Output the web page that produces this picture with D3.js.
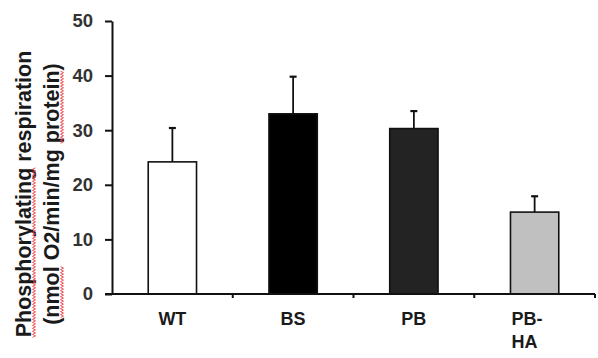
<!DOCTYPE html>
<html>
<head>
<meta charset="utf-8">
<script src="https://cdn.jsdelivr.net/npm/d3@7"></script>
<style>
  body { margin: 0; background: #fff; }
  svg text { font-family: "Liberation Sans", Arial, sans-serif; }
</style>
</head>
<body>
<div id="chart"></div>
<script>
// bar chart: phosphorylating respiration per strain

const categories = ['WT', 'BS', 'PB', 'PB-HA'];
const means = [24.2, 33.0, 30.3, 15.0];
const errors = [6.2, 6.8, 3.2, 2.9];
const fills = ['#ffffff', '#000000', '#232323', '#c0c0c0'];
const yTicks = [0, 10, 20, 30, 40, 50];

const width = 598, height = 358;
const margin = { left: 112, right: 3, top: 21, bottom: 64 };

const svg = d3.select('#chart')
  .append('svg')
  .attr('width', width)
  .attr('height', height);

const x = d3.scaleBand()
  .domain(categories)
  .range([margin.left, width - margin.right])
  .paddingInner(0.6)
  .paddingOuter(0.3);

const y = d3.scaleLinear()
  .domain([0, 50])
  .range([height - margin.bottom, margin.top]);

const bands = d3.scaleBand().domain(categories).range([margin.left, width - margin.right]);

// bars
svg.selectAll('rect.bar')
  .data(categories)
  .enter().append('rect')
  .attr('class', 'bar')
  .attr('x', d => x(d))
  .attr('y', (d, i) => y(means[i]))
  .attr('width', x.bandwidth())
  .attr('height', (d, i) => y(0) - y(means[i]))
  .attr('fill', (d, i) => fills[i])
  .attr('stroke', '#111')
  .attr('stroke-width', 1.6);

// error bars (upper only)
const err = svg.selectAll('g.err')
  .data(categories)
  .enter().append('g');
err.append('line')
  .attr('x1', d => x(d) + x.bandwidth() / 2)
  .attr('x2', d => x(d) + x.bandwidth() / 2)
  .attr('y1', (d, i) => y(means[i]))
  .attr('y2', (d, i) => y(means[i] + errors[i]))
  .attr('stroke', '#111').attr('stroke-width', 1.8);
err.append('line')
  .attr('x1', d => x(d) + x.bandwidth() / 2 - 3.5)
  .attr('x2', d => x(d) + x.bandwidth() / 2 + 3.5)
  .attr('y1', (d, i) => y(means[i] + errors[i]))
  .attr('y2', (d, i) => y(means[i] + errors[i]))
  .attr('stroke', '#111').attr('stroke-width', 2.2);

// y axis
const yAxis = svg.append('g')
  .attr('transform', `translate(${margin.left},0)`)
  .call(d3.axisLeft(y).tickValues(yTicks).tickSize(7).tickPadding(12).tickSizeOuter(0));
yAxis.select('.domain').attr('stroke', '#111').attr('stroke-width', 2);
yAxis.selectAll('.tick line').attr('stroke', '#111').attr('stroke-width', 2);
yAxis.selectAll('.tick text')
  .attr('fill', '#333')
  .attr('font-size', 18.5)
  .attr('font-weight', 'bold');

// x axis: ticks between categories
const xAxisY = y(0);
svg.append('line')
  .attr('x1', margin.left - 7).attr('x2', width - margin.right)
  .attr('y1', xAxisY).attr('y2', xAxisY)
  .attr('stroke', '#111').attr('stroke-width', 2);
svg.selectAll('line.xt')
  .data(categories)
  .enter().append('line')
  .attr('x1', d => bands(d) + bands.bandwidth())
  .attr('x2', d => bands(d) + bands.bandwidth())
  .attr('y1', xAxisY).attr('y2', xAxisY + 4)
  .attr('stroke', '#111').attr('stroke-width', 2);

// category labels
svg.selectAll('text.cat')
  .data(categories)
  .enter().append('text')
  .attr('class', 'cat')
  .attr('font-size', 18)
  .attr('font-weight', 'bold')
  .attr('fill', '#1a1a1a')
  .each(function (d) {
    const t = d3.select(this);
    const cx = x(d) + x.bandwidth() / 2;
    if (d.includes('-')) {
      const parts = d.split('-');
      t.attr('text-anchor', 'start').attr('x', x(d) + 1).attr('y', 325);
      t.append('tspan').attr('x', x(d) + 1).text(parts[0] + '-');
      t.append('tspan').attr('x', x(d) + 1).attr('dy', 23).text(parts[1]);
    } else {
      t.attr('text-anchor', 'middle').attr('x', cx).attr('y', 325).text(d);
    }
  });

// y axis title, two lines, with the spell-check squiggles of the original
const titleLines = [
  { text: '(nmol O2/min/mg protein)', x: 59, marks: ['nmol', 'protein'] },
  { text: 'Phosphorylating respiration', x: 31, marks: ['Phosphorylating'] }
];

const titleG = svg.append('g')
  .attr('transform', `translate(0,194) rotate(-90)`);

titleLines.forEach(line => {
  const t = titleG.append('text')
    .attr('x', 0)
    .attr('y', line.x)
    .attr('text-anchor', 'middle')
    .attr('font-size', 21.5)
    .attr('font-weight', 'bold')
    .attr('fill', '#1a1a1a')
    .text(line.text);
  const node = t.node();
  const total = node.getComputedTextLength();
  line.marks.forEach(word => {
    const idx = line.text.indexOf(word);
    const start = -total / 2 + (idx > 0 ? node.getSubStringLength(0, idx) : 0);
    const len = node.getSubStringLength(idx, word.length);
    const pts = [];
    for (let k = 0; start + k * 1.5 <= start + len; k++) {
      pts.push([start + k * 1.5, line.x + (k % 2 ? 4.5 : 1.5)]);
    }
    titleG.append('path')
      .attr('d', d3.line()(pts))
      .attr('fill', 'none')
      .attr('stroke', '#e8403f')
      .attr('stroke-width', 0.9);
  });
});
</script>
</body>
</html>
